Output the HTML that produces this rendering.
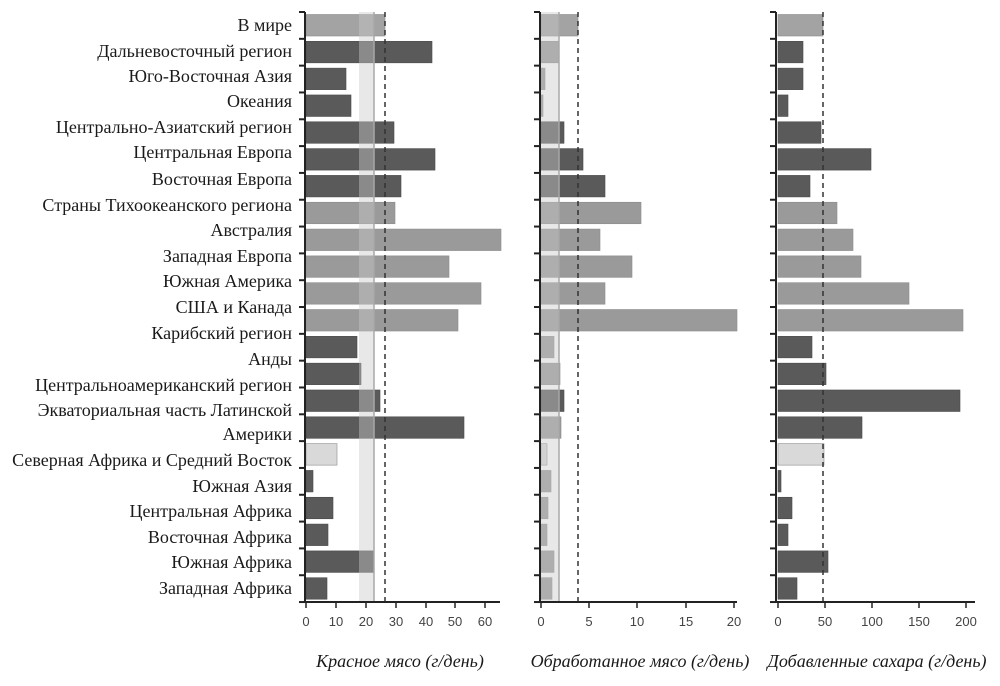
<!DOCTYPE html>
<html><head><meta charset="utf-8"><style>
html,body{margin:0;padding:0;background:#fff;}
svg{display:block;}
.lb{font-family:"Liberation Serif","DejaVu Serif",serif;font-size:18px;fill:#1a1a1a;text-anchor:end;}
.tk{font-family:"Liberation Sans","DejaVu Sans",sans-serif;font-size:13px;fill:#444;text-anchor:middle;}
.tt{font-family:"Liberation Serif","DejaVu Serif",serif;font-size:18px;font-style:italic;fill:#1a1a1a;text-anchor:middle;}
</style></head><body>
<svg id="s" width="1000" height="686" viewBox="0 0 1000 686" xmlns="http://www.w3.org/2000/svg">
<g id="bars"></g>
<g>
<text class="lb" x="292" y="31">В мире</text>
<text class="lb" x="292" y="57">Дальневосточный регион</text>
<text class="lb" x="292" y="82">Юго-Восточная Азия</text>
<text class="lb" x="292" y="107">Океания</text>
<text class="lb" x="292" y="133">Центрально-Азиатский регион</text>
<text class="lb" x="292" y="158">Центральная Европа</text>
<text class="lb" x="292" y="185">Восточная Европа</text>
<text class="lb" x="292" y="211">Страны Тихоокеанского региона</text>
<text class="lb" x="292" y="236">Австралия</text>
<text class="lb" x="292" y="262">Западная Европа</text>
<text class="lb" x="292" y="287">Южная Америка</text>
<text class="lb" x="292" y="313">США и Канада</text>
<text class="lb" x="292" y="339">Карибский регион</text>
<text class="lb" x="292" y="365">Анды</text>
<text class="lb" x="292" y="391">Центральноамериканский регион</text>
<text class="lb" x="292" y="416">Экваториальная часть Латинской</text>
<text class="lb" x="292" y="440">Америки</text>
<text class="lb" x="292" y="466">Северная Африка и Средний Восток</text>
<text class="lb" x="292" y="492">Южная Азия</text>
<text class="lb" x="292" y="517">Центральная Африка</text>
<text class="lb" x="292" y="543">Восточная Африка</text>
<text class="lb" x="292" y="568">Южная Африка</text>
<text class="lb" x="292" y="594">Западная Африка</text>
</g>
<g>
<text class="tk" x="306" y="626">0</text><text class="tk" x="336" y="626">10</text><text class="tk" x="366" y="626">20</text><text class="tk" x="396" y="626">30</text><text class="tk" x="426" y="626">40</text><text class="tk" x="455" y="626">50</text><text class="tk" x="485" y="626">60</text>
<text class="tk" x="541" y="626">0</text><text class="tk" x="589" y="626">5</text><text class="tk" x="637" y="626">10</text><text class="tk" x="686" y="626">15</text><text class="tk" x="734" y="626">20</text>
<text class="tk" x="778" y="626">0</text><text class="tk" x="825" y="626">50</text><text class="tk" x="872" y="626">100</text><text class="tk" x="919" y="626">150</text><text class="tk" x="966" y="626">200</text>
<text class="tt" x="400" y="667">Красное мясо (г/день)</text>
<text class="tt" x="640" y="667">Обработанное мясо (г/день)</text>
<text class="tt" x="877" y="667">Добавленные сахара (г/день)</text>
</g>
</svg>
<script>
var NS="http://www.w3.org/2000/svg",g=document.getElementById("bars");
function el(t,a){var e=document.createElementNS(NS,t);for(var k in a)e.setAttribute(k,a[k]);g.appendChild(e);return e;}
var C={d:"#5a5a5a",m:"#9a9a9a",l:"#d9d9d9",n:"#a3a3a3"};
var P=[
 {x0:306,ax:[305,500],ends:[385,432,346,351,394,435,401,395,501,449,481,458,357,361,380,464,337,313,333,328,374,327],
  cols:"nddddddmmmmmddddlddddd",band:[359,374],dash:385,ticks:[306,336,366,396,426,455,485]},
 {x0:541,ax:[540,737],ends:[578,559,545,543,564,583,605,641,600,632,605,737,554,560,564,561,547,551,548,547,554,552],
  cols:"nmmmdddmmmmmmmdmlmmmmm",band:[541,559],dash:578,ticks:[541,589,637,686,734]},
 {x0:778,ax:[776,975],ends:[823,803,803,788,821,871,810,837,853,861,909,963,812,826,960,862,824,781,792,788,828,797],
  cols:"nddddddmmmmmddddlddddd",band:null,dash:823,ticks:[778,825,872,919,966]}
];
var y0=12,step=26.82,yb=602;
P.forEach(function(p){
 for(var i=0;i<22;i++){var y=y0+step*i+2.5,c=C[p.cols[i]];
  el("rect",{x:p.x0,y:y,width:Math.max(1,p.ends[i]-p.x0),height:21.5,fill:c,stroke:p.cols[i]=="d"?"#4a4a4a":"#8c8c8c","stroke-width":0.6});}
 if(p.band){el("rect",{x:p.band[0],y:y0,width:p.band[1]-p.band[0],height:yb-y0,fill:"rgb(202,202,202)","fill-opacity":0.43});
  el("line",{x1:p.band[1],y1:y0,x2:p.band[1],y2:yb,stroke:"#a8a8a8","stroke-width":1.5});}
 el("line",{x1:p.dash,y1:y0,x2:p.dash,y2:yb,stroke:"#333","stroke-width":1.5,"stroke-dasharray":"5,4"});
 el("line",{x1:p.ax[0],y1:y0,x2:p.ax[0],y2:yb+1,stroke:"#222","stroke-width":2});
 el("line",{x1:p.ax[0]-1,y1:yb,x2:p.ax[1],y2:yb,stroke:"#222","stroke-width":2});
 for(var j=0;j<=22;j++){var yy=y0+step*j;el("line",{x1:p.ax[0]-6,y1:yy,x2:p.ax[0],y2:yy,stroke:"#222","stroke-width":2});}
 p.ticks.forEach(function(t){el("line",{x1:t,y1:yb,x2:t,y2:yb+6,stroke:"#222","stroke-width":1.5});});
});
</script>
</body></html>
